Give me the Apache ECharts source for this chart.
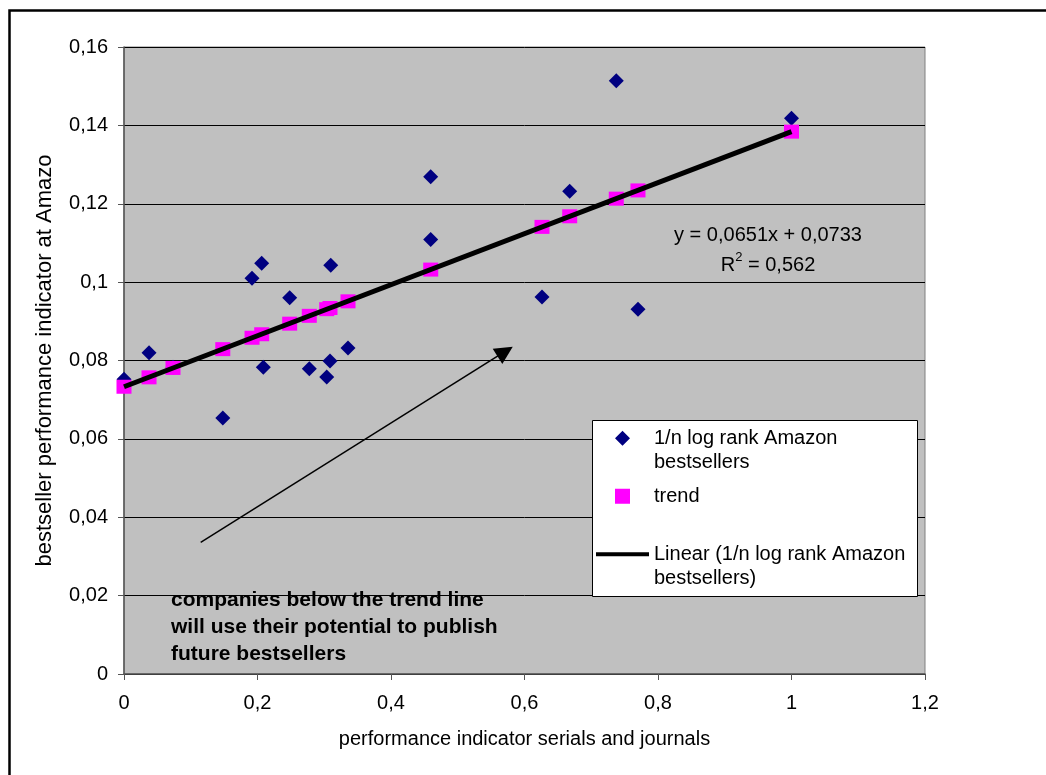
<!DOCTYPE html>
<html>
<head>
<meta charset="utf-8">
<script src="https://cdn.jsdelivr.net/npm/echarts@6/dist/echarts.min.js"></script>
<style>
html,body{margin:0;padding:0;background:#fff;}
#chart{width:1046px;height:775px;}
</style>
</head>
<body>
<div id="chart"></div>
<script>
// Observed points: 1/n log rank Amazon bestsellers
const obsX = [0, 0.0375, 0.0734, 0.148, 0.1918, 0.2063, 0.2087, 0.2482, 0.2776, 0.3037, 0.3097, 0.3086, 0.3356, 0.4595, 0.4595, 0.6262, 0.6677, 0.7375, 0.770, 1.0];
const obsY = [0.0752, 0.0820, 0.0783, 0.0653, 0.1010, 0.1048, 0.0783, 0.0960, 0.0779, 0.0758, 0.1043, 0.0799, 0.0832, 0.1269, 0.1109, 0.0962, 0.1232, 0.1514, 0.0931, 0.1418];
// Trend points
const trendX = [0, 0.0375, 0.0734, 0.148, 0.1918, 0.2063, 0.2482, 0.2776, 0.3037, 0.3086, 0.3356, 0.4595, 0.6262, 0.6677, 0.7375, 0.770, 1.0];
const trendY = [0.0733, 0.0757, 0.0781, 0.0829, 0.0858, 0.0867, 0.0894, 0.0914, 0.0931, 0.0934, 0.0951, 0.1032, 0.1141, 0.1168, 0.1213, 0.1234, 0.1384];
// Linear fit end points
const lineX = [0, 1];
const lineY = [0.0733, 0.1384];
// Annotation arrow (data coords)
const arrowFrom = [0.1149, 0.0336];
const arrowTo = [0.571, 0.0823];
// Axis ranges / ticks
const xTicks = {min: 0, max: 1.2, interval: 0.2};
const yTicks = {min: 0, max: 0.16, interval: 0.02};
const names = {
  obs: '1/n log rank Amazon bestsellers',
  trend: 'trend',
  linear: 'Linear (1/n log rank Amazon bestsellers)'
};
const legendText = {};
legendText[names.obs] = '\n1/n log rank Amazon\nbestsellers';
legendText[names.trend] = 'trend';
legendText[names.linear] = '\nLinear (1/n log rank Amazon\nbestsellers)';

const FONT = "'Liberation Sans', Arial, sans-serif";
const zip = (a, b) => a.map((v, i) => [v, b[i]]);
const fmt = v => String(Math.round(v * 100) / 100).replace('.', ',');
// legend icon shapes, drawn inside a 53x15 box (tiny corner anchors keep the box size)
const anchors = ' M0,0L0.01,0L0,0.01Z M53,15L52.99,15L53,14.99Z';
const iconDiamond = 'path://M19,7.5L26.5,0L34,7.5L26.5,15Z' + anchors;
const iconSquare = 'path://M19,0L34,0L34,15L19,15Z' + anchors;
const iconLine = 'path://M0,5.5L53,5.5L53,9.5L0,9.5Z' + anchors;

const chart = echarts.init(document.getElementById('chart'), null, {renderer: 'canvas'});
chart.setOption({
  animation: false,
  backgroundColor: '#ffffff',
  textStyle: {fontFamily: FONT},
  grid: {left: 124, top: 47, right: 121, bottom: 101, show: true, backgroundColor: '#c0c0c0', borderColor: '#808080', borderWidth: 1},
  xAxis: {
    type: 'value', min: xTicks.min, max: xTicks.max, interval: xTicks.interval,
    name: 'performance indicator serials and journals', nameLocation: 'middle', nameGap: 55,
    nameTextStyle: {fontSize: 20, color: '#000', fontFamily: FONT},
    axisLine: {show: true, lineStyle: {color: '#555', width: 1.5}},
    axisTick: {show: true, length: 6, lineStyle: {color: '#555'}},
    axisLabel: {fontSize: 20, color: '#000', margin: 19, formatter: fmt, fontFamily: FONT},
    splitLine: {show: false}
  },
  yAxis: {
    type: 'value', min: yTicks.min, max: yTicks.max, interval: yTicks.interval,
    name: 'bestseller performance indicator at Amazon', nameLocation: 'middle', nameGap: 68, nameRotate: 90,
    nameTruncate: {maxWidth: 419, ellipsis: ''},
    nameTextStyle: {fontSize: 22, color: '#000', fontFamily: FONT},
    axisLine: {show: true, lineStyle: {color: '#555', width: 1.5}},
    axisTick: {show: true, length: 6, lineStyle: {color: '#555'}},
    axisLabel: {fontSize: 20, color: '#000', margin: 16, formatter: fmt, fontFamily: FONT},
    splitLine: {show: true, lineStyle: {color: '#000', width: 1}}
  },
  legend: {
    orient: 'vertical', left: 596, top: 401.5, padding: 0, itemGap: 9,
    itemWidth: 53, itemHeight: 15, z: 10, selectedMode: false,
    textStyle: {fontSize: 20, lineHeight: 24.5, color: '#000', fontFamily: FONT},
    formatter: n => legendText[n],
    data: [
      {name: names.obs, icon: iconDiamond},
      {name: names.trend, icon: iconSquare},
      {name: names.linear, icon: iconLine}
    ]
  },
  series: [
    {
      name: names.obs, type: 'scatter', z: 2, symbol: 'diamond', symbolSize: 15,
      itemStyle: {color: '#000080', opacity: 1},
      data: zip(obsX, obsY),
      markLine: {
        silent: true, symbol: ['none', 'triangle'], symbolSize: 18,
        label: {show: false},
        lineStyle: {color: '#000', width: 1.5, type: 'solid'},
        itemStyle: {color: '#000'},
        data: [[{coord: arrowFrom}, {coord: arrowTo}]]
      }
    },
    {
      name: names.trend, type: 'scatter', z: 3, symbol: 'rect', symbolSize: [15, 14],
      itemStyle: {color: '#ff00ff', opacity: 1},
      data: zip(trendX, trendY)
    },
    {
      name: names.linear, type: 'line', z: 4, symbol: 'none', showSymbol: false,
      lineStyle: {color: '#000', width: 5},
      itemStyle: {color: '#000'},
      data: zip(lineX, lineY)
    }
  ],
  graphic: [
    {type: 'rect', z: 0, silent: true, shape: {x: 9.5, y: 10.5, width: 1100, height: 900},
     style: {fill: null, stroke: '#000', lineWidth: 2.5}},
    {type: 'rect', z: 8, silent: true, shape: {x: 592.5, y: 420.5, width: 325, height: 176},
     style: {fill: '#fff', stroke: '#000', lineWidth: 1}},
    {type: 'text', z: 8, silent: true, x: 768, y: 235,
     style: {text: 'y = 0,0651x + 0,0733', align: 'center', verticalAlign: 'middle', font: "20px 'Liberation Sans', Arial, sans-serif", fill: '#000'}},
    {type: 'text', z: 8, silent: true, x: 768, y: 263,
     style: {text: '{a|R}{s|2}{a| = 0,562}', align: 'center', verticalAlign: 'middle', fill: '#000',
       rich: {a: {fontSize: 20, fontFamily: FONT, lineHeight: 24, verticalAlign: 'bottom'},
              s: {fontSize: 13, fontFamily: FONT, lineHeight: 24, verticalAlign: 'top', padding: [0, 0, 8, 0]}}}},
    {type: 'text', z: 8, silent: true, x: 171, y: 587,
     style: {text: 'companies below the trend line\nwill use their potential to publish\nfuture bestsellers',
       font: "bold 21px 'Liberation Sans', Arial, sans-serif", lineHeight: 27, fill: '#000', align: 'left', verticalAlign: 'top'}}
  ]
});
</script>
</body>
</html>
